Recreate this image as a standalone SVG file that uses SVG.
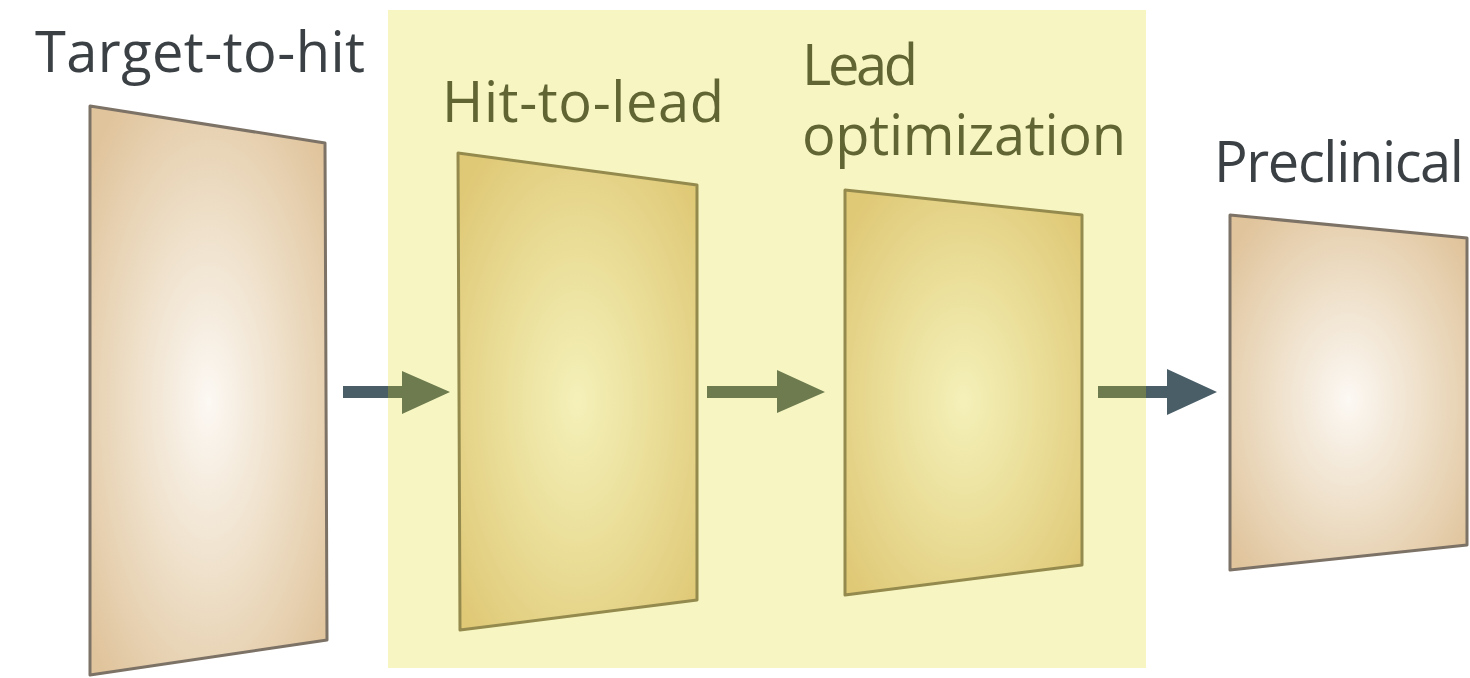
<svg xmlns="http://www.w3.org/2000/svg" width="1470" height="678" viewBox="0 0 1470 678">
  <style>
    .lbl { font-family: "Open Sans", "Noto Sans", "DejaVu Sans", sans-serif; font-size: 56px; fill: #3a4044; }
    .panel { fill: url(#panelGrad); stroke: #7d7266; stroke-width: 3; stroke-linejoin: round; }
    .arrow { fill: #4a5e68; }
  </style>
  <defs>
    <radialGradient id="panelGrad" cx="0.5" cy="0.52" r="0.65" fx="0.5" fy="0.52">
      <stop offset="0" stop-color="#fcf8f3"/>
      <stop offset="0.5" stop-color="#eedfc8"/>
      <stop offset="1" stop-color="#e0c49c"/>
    </radialGradient>
  </defs>
  <rect x="0" y="0" width="1470" height="678" fill="#ffffff"/>

  <g id="node-target-to-hit">
    <polygon class="panel" points="90,106 325,143 327,640 90,675"/>
    <text class="lbl" x="35" y="72" textLength="330">Target-to-hit</text>
  </g>

  <g id="node-hit-to-lead">
    <polygon class="panel" points="458,153 697,185 697,600 460,630"/>
    <text class="lbl" x="442" y="122" textLength="282">Hit-to-lead</text>
  </g>

  <g id="node-lead-optimization">
    <polygon class="panel" points="845,190 1082,215 1082,565 845,595"/>
    <text class="lbl" x="802" y="85" textLength="116">Lead</text>
    <text class="lbl" x="802" y="155" textLength="324">optimization</text>
  </g>

  <g id="node-preclinical">
    <polygon class="panel" points="1230,215 1467,238 1467,545 1230,570"/>
    <text class="lbl" x="1214" y="182" textLength="250">Preclinical</text>
  </g>

  <g id="connectors">
    <path class="arrow" d="M343,386 H402 V371 L450,392 L402,414 V398 H343 Z"/>
    <path class="arrow" d="M707,386 H777 V370 L825,392 L777,413 V398 H707 Z"/>
    <path class="arrow" d="M1098,386 H1167 V369 L1217,392 L1167,415 V398 H1098 Z"/>
  </g>

  <rect id="discovery-region" x="388" y="10" width="758" height="658" fill="rgb(222,218,0)" fill-opacity="0.24"/>
</svg>
